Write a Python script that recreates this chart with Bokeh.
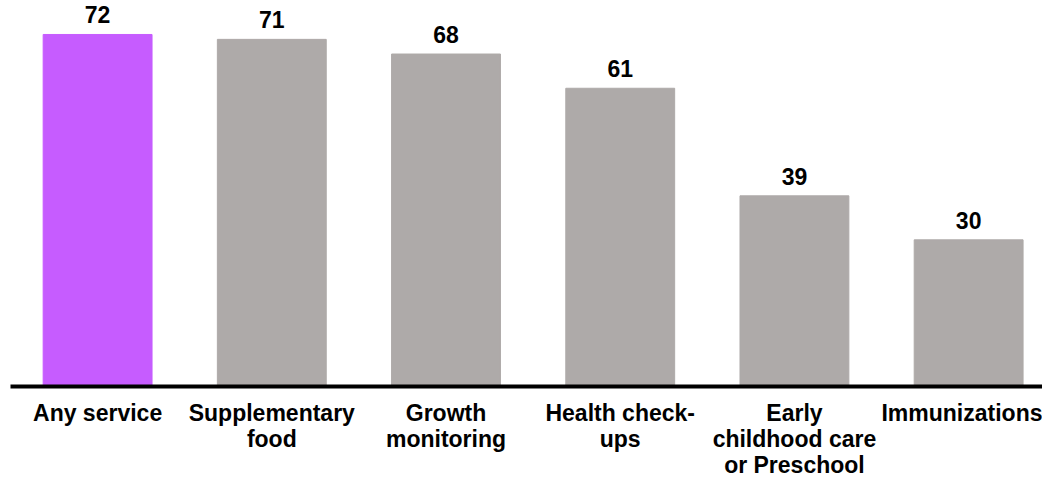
from bokeh.plotting import figure
from bokeh.models import ColumnDataSource, Range1d, FixedTicker, LabelSet
from bokeh.core.properties import value
from bokeh.embed import file_html
from bokeh.resources import INLINE

categories = ["Any service", "Supplementary\nfood", "Growth\nmonitoring",
              "Health check-\nups", "Early\nchildhood care\nor Preschool", "Immunizations"]
values = [72, 71, 68, 61, 39, 30]

HIGHLIGHT = "#C65CFF"
GRAY = "#AEAAA9"

xs = list(range(len(categories)))
colors = [HIGHLIGHT if i == 0 else GRAY for i in xs]
src = ColumnDataSource(dict(x=xs, v=values, c=colors, t=[str(v) for v in values]))

p = figure(frame_width=1032, frame_height=382, output_backend="svg", toolbar_location=None,
           x_range=Range1d(-0.5, 5.424), y_range=Range1d(0, 78.13),
           min_border_left=10, min_border_right=0, min_border_top=4, min_border_bottom=0)

p.vbar(x="x", top="v", width=0.625, bottom=0, color="c", source=src)

labels = LabelSet(x="x", y="v", text="t", source=src, y_offset=11,
                  text_align="center", text_baseline="alphabetic",
                  text_font=value("Liberation Sans"), text_font_style="bold",
                  text_font_size="23px", text_color="#000000")
p.add_layout(labels)

p.xgrid.visible = False
p.ygrid.visible = False
p.yaxis.visible = False
p.outline_line_color = None

ax = p.xaxis[0]
ax.ticker = FixedTicker(ticks=xs)
ax.major_label_overrides = {i: c for i, c in zip(xs, categories)}
ax.major_tick_line_color = None
ax.minor_tick_line_color = None
ax.axis_line_color = "#000000"
ax.axis_line_width = 4
ax.major_label_text_font = "Liberation Sans"
ax.major_label_text_font_style = "bold"
ax.major_label_text_font_size = "23px"
ax.major_label_text_line_height = 1.0
ax.major_label_text_color = "#000000"
ax.major_label_standoff = 7
ax.major_label_orientation = "horizontal"

open("out.html", "w").write(file_html(p, INLINE))
